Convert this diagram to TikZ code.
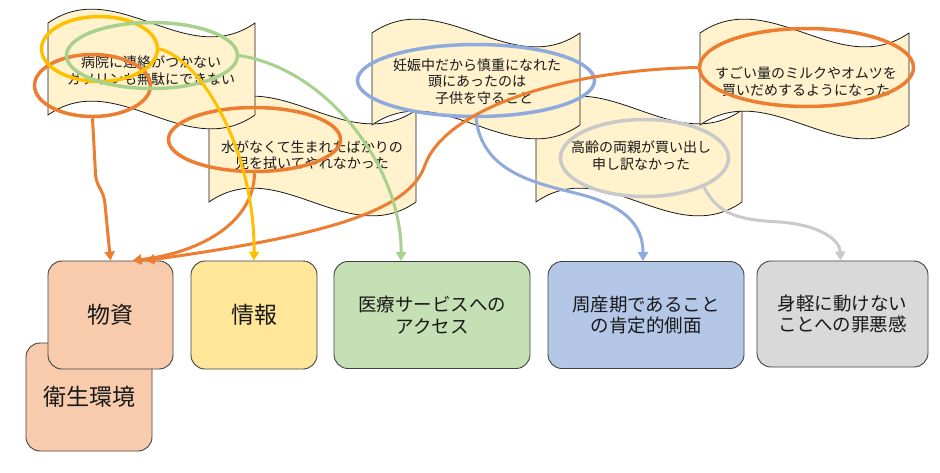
\documentclass[tikz,border=0pt]{standalone}
\usepackage{fontspec}
\setmainfont{Noto Sans CJK JP}
\usetikzlibrary{shapes.geometric,arrows.meta}
\definecolor{bannerfill}{HTML}{FFF2CC}
\definecolor{cOrange}{HTML}{ED7D31}
\definecolor{cGold}{HTML}{FFC000}
\definecolor{cGreen}{HTML}{A9D18E}
\definecolor{cBlue}{HTML}{8FAADC}
\definecolor{cGray}{HTML}{C9C9C9}
\definecolor{fOrange}{HTML}{F8CBAD}
\definecolor{fGold}{HTML}{FFE699}
\definecolor{fGreen}{HTML}{C5E0B4}
\definecolor{fBlue}{HTML}{B4C7E7}
\definecolor{fGray}{HTML}{D9D9D9}
\definecolor{edgecol}{HTML}{404040}
% wave banner: left x, right x, top y (side length 92)
\newcommand{\wavebanner}[3]{%
  \pgfmathsetmacro{\bnA}{#1+(#2-#1)/3}%
  \pgfmathsetmacro{\bnB}{#1+2*(#2-#1)/3}%
  \pgfmathsetmacro{\bnC}{#3-48}%
  \pgfmathsetmacro{\bnD}{#3+48}%
  \pgfmathsetmacro{\bnE}{#3+92}%
  \pgfmathsetmacro{\bnF}{#3+44}%
  \pgfmathsetmacro{\bnG}{#3+140}%
  \draw[banner] (#1,#3) .. controls (\bnA,\bnC) and (\bnB,\bnD) .. (#2,#3)
    -- (#2,\bnE) .. controls (\bnB,\bnG) and (\bnA,\bnF) .. (#1,\bnE) -- cycle;%
}
\begin{document}
\begin{tikzpicture}[x=1pt,y=-1pt,
  banner/.style={draw=black!90, line width=0.8pt, fill=bannerfill},
  btext/.style={align=center, font=\fontsize{14}{16.5}\selectfont, text=black!90, inner sep=0pt},
  catbox/.style={draw=edgecol, line width=0.9pt, rounded corners=14pt, inner sep=0pt, align=center, text=black!90},
  bigtext/.style={font=\fontsize{23}{26}\selectfont},
  midtext/.style={font=\fontsize{18.5}{21.5}\selectfont},
  ring/.style={ellipse, draw, line width=3.5pt, inner sep=0pt},
  link/.style={line width=3pt, -{Triangle[length=9pt,width=10pt]}}
]
\fill[white] (0,0) rectangle (940,472);
\useasboundingbox (0,0) rectangle (940,472);

% banners (back to front)
\wavebanner{209}{416}{110}
\node[btext] (t2) at (312,155) {水がなくて生まれたばかりの\\児を拭いてやれなかった};
\wavebanner{536}{742}{110}
\node[btext] (t4) at (641,155.5) {高齢の両親が買い出し\\申し訳なかった};
\wavebanner{48}{255}{23}
\node[btext] (t1) at (151,70.5) {病院に連絡がつかない\\ガソリンも無駄にできない};
\wavebanner{372}{580}{33}
\node[btext] (t3) at (477,81.5) {妊娠中だから慎重になれた\\頭にあったのは\\\hspace*{1em}子供を守ること};
\wavebanner{700}{909}{33}
\node[btext] (t5) at (806,81.5) {すごい量のミルクやオムツを\\買いだめするようになった};

% category boxes
\node[catbox, bigtext, fill=fOrange, minimum width=126pt, minimum height=108pt] (eisei) at (89,397) {\raisebox{-2pt}{衛生環境}};
\node[catbox, bigtext, fill=fOrange, minimum width=125pt, minimum height=108pt] (busshi) at (110.5,315) {物資};
\node[catbox, bigtext, fill=fGold, minimum width=126pt, minimum height=108pt] (joho) at (254,315) {情報};
\node[catbox, midtext, fill=fGreen, minimum width=196pt, minimum height=107pt] (iryo) at (432,315) {医療サービスへの\\アクセス};
\node[catbox, midtext, fill=fBlue, minimum width=196pt, minimum height=107pt] (shusan) at (646,315) {周産期であること\\の肯定的側面};
\node[catbox, midtext, fill=fGray, minimum width=171pt, minimum height=106pt] (migaru) at (842.5,314) {身軽に動けない\\ことへの罪悪感};

% ellipses
\node[ring, draw=cOrange, minimum width=116pt, minimum height=62pt] (eol) at (92.5,85.5) {};
\node[ring, draw=cGold, minimum width=116pt, minimum height=65pt] (ey) at (99.5,49) {};
\node[ring, draw=cGreen, minimum width=171pt, minimum height=66pt] (eg) at (152,55.5) {};
\node[ring, draw=cOrange, minimum width=172pt, minimum height=64pt] (eom) at (254.5,139.5) {};
\node[ring, draw=cBlue, minimum width=237pt, minimum height=72pt] (eb) at (476,80.5) {};
\node[ring, draw=cGray, minimum width=168pt, minimum height=77pt] (egr) at (644.5,158) {};
\node[ring, draw=cOrange, minimum width=214pt, minimum height=78pt] (eor) at (806.5,67.5) {};

% waypoints
\coordinate (k1) at (96,183);
\coordinate (k2) at (104,194);
\coordinate (via1) at (425,165);
\coordinate (via2) at (575,193);
\coordinate (via3) at (780,222);

% connectors
\draw[link, cOrange, rounded corners=8pt] (eol.south) -- (k1) -- (k2) -- (busshi.north);
\draw[link, cOrange] (eom.south) .. controls (254,220) and (205,252) .. ([xshift=22pt]busshi.north);
\draw[link, cOrange] (eor.west) .. controls (560,70) and (445,110) .. (via1)
  .. controls (410,210) and (330,235) .. ([xshift=35pt]busshi.north);
\draw[link, cGold] (ey.east) .. controls (200,58) and (255,150) .. (joho.north);
\draw[link, cGreen] (eg.east) .. controls (330,70) and (402,170) .. ([xshift=-31pt]iryo.north);
\draw[link, cBlue] (eb.south) .. controls (482,170) and (530,182) .. (via2)
  .. controls (625,205) and (643,225) .. ([xshift=-3pt]shusan.north);
\draw[link, cGray] (egr.-26) .. controls (718,215) and (740,220) .. (via3)
  .. controls (820,225) and (840,240) .. ([xshift=-2pt]migaru.north);
\end{tikzpicture}
\end{document}
